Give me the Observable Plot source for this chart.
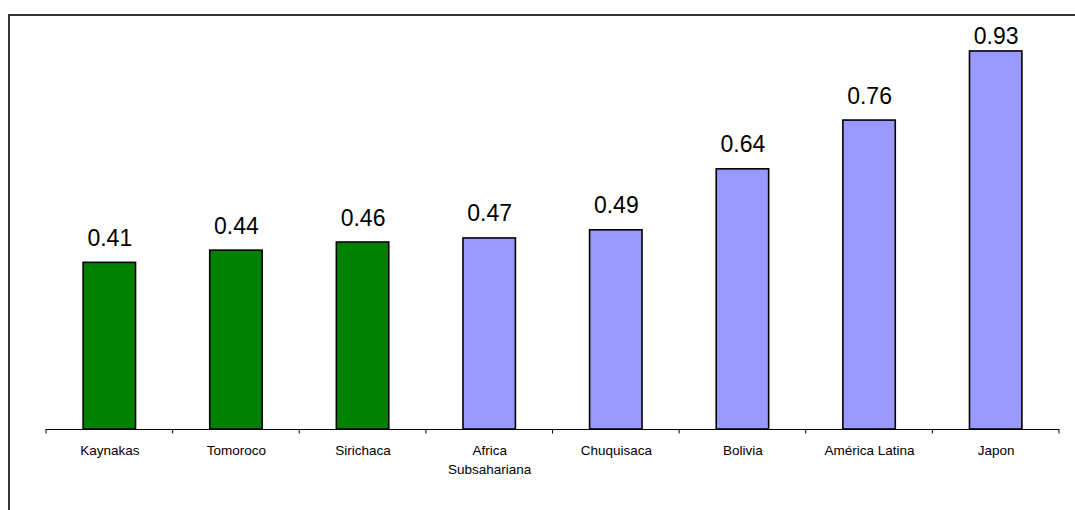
<!DOCTYPE html>
<html>
<head>
<meta charset="utf-8">
<script src="https://cdn.jsdelivr.net/npm/d3@7"></script>
<script src="https://cdn.jsdelivr.net/npm/@observablehq/plot@0.6"></script>
<style>
  html, body { margin: 0; padding: 0; background: #fff; overflow: hidden; }
  #chart svg { display: block; }
</style>
</head>
<body>
<div id="chart"></div>
<script>
// Categories, in the order drawn along the axis
const categories = ["Kaynakas", "Tomoroco", "Sirichaca", "Africa\nSubsahariana", "Chuquisaca", "Bolivia", "América Latina", "Japon"];
// Index value for each category
const values = [0.41, 0.44, 0.46, 0.47, 0.49, 0.64, 0.76, 0.93];
// Local communities vs. reference regions
const groups = ["local", "local", "local", "ref", "ref", "ref", "ref", "ref"];

const data = categories.map((c, i) => ({ name: c, value: values[i], group: groups[i] }));

const W = 1075, H = 510;
const font = "Arial, 'Liberation Sans', sans-serif";
const yMax = 1;
// value labels never rise past the top of the plotting area
const labelCap = 0.907;

const chart = Plot.plot({
  width: W,
  height: H,
  marginLeft: 46,
  marginRight: 16,
  marginTop: 22.5,
  marginBottom: 81,
  style: { fontFamily: font, background: "#fff", overflow: "visible" },
  x: { domain: categories, paddingInner: 0.586, paddingOuter: 0.293, round: false, axis: null },
  y: { type: "linear", domain: [0, yMax], axis: null },
  color: { domain: ["local", "ref"], range: ["#008000", "#9999FF"] },
  marks: [
    Plot.barY(data, { x: "name", y: "value", fill: "group", stroke: "#000", strokeWidth: 1.6 }),
    // category axis line
    Plot.ruleY([0], { stroke: "#000", strokeWidth: 1 }),
    Plot.text(data, {
      x: "name", y: d => Math.min(d.value, labelCap), text: d => d.value.toFixed(2),
      dy: -17, lineAnchor: "bottom", fontSize: 23, fill: "#000"
    }),
    Plot.text(data, {
      x: "name", y: 0, text: "name", dy: 13, lineAnchor: "top",
      fontSize: 13.5, lineHeight: 1.35, fill: "#000"
    })
  ]
});

document.getElementById("chart").appendChild(chart);

// Separator ticks below the axis at every category boundary
const svg = d3.select(chart);
const xs = chart.scale("x"), ys = chart.scale("y");
const step = xs.step;
const baseY = ys.apply(0);
const bounds = categories.map(c => xs.apply(c) + xs.bandwidth / 2 - step / 2);
bounds.push(bounds[bounds.length - 1] + step);
svg.append("g").selectAll("line").data(bounds).join("line")
  .attr("x1", d => d).attr("x2", d => d)
  .attr("y1", baseY).attr("y2", baseY + 4.5)
  .attr("stroke", "#000").attr("stroke-width", 1);

// Outer chart-area border
svg.insert("rect", ":first-child")
  .attr("x", 9).attr("y", 15).attr("width", W + 50).attr("height", H + 50)
  .attr("fill", "none").attr("stroke", "#333").attr("stroke-width", 2);
</script>
</body>
</html>
